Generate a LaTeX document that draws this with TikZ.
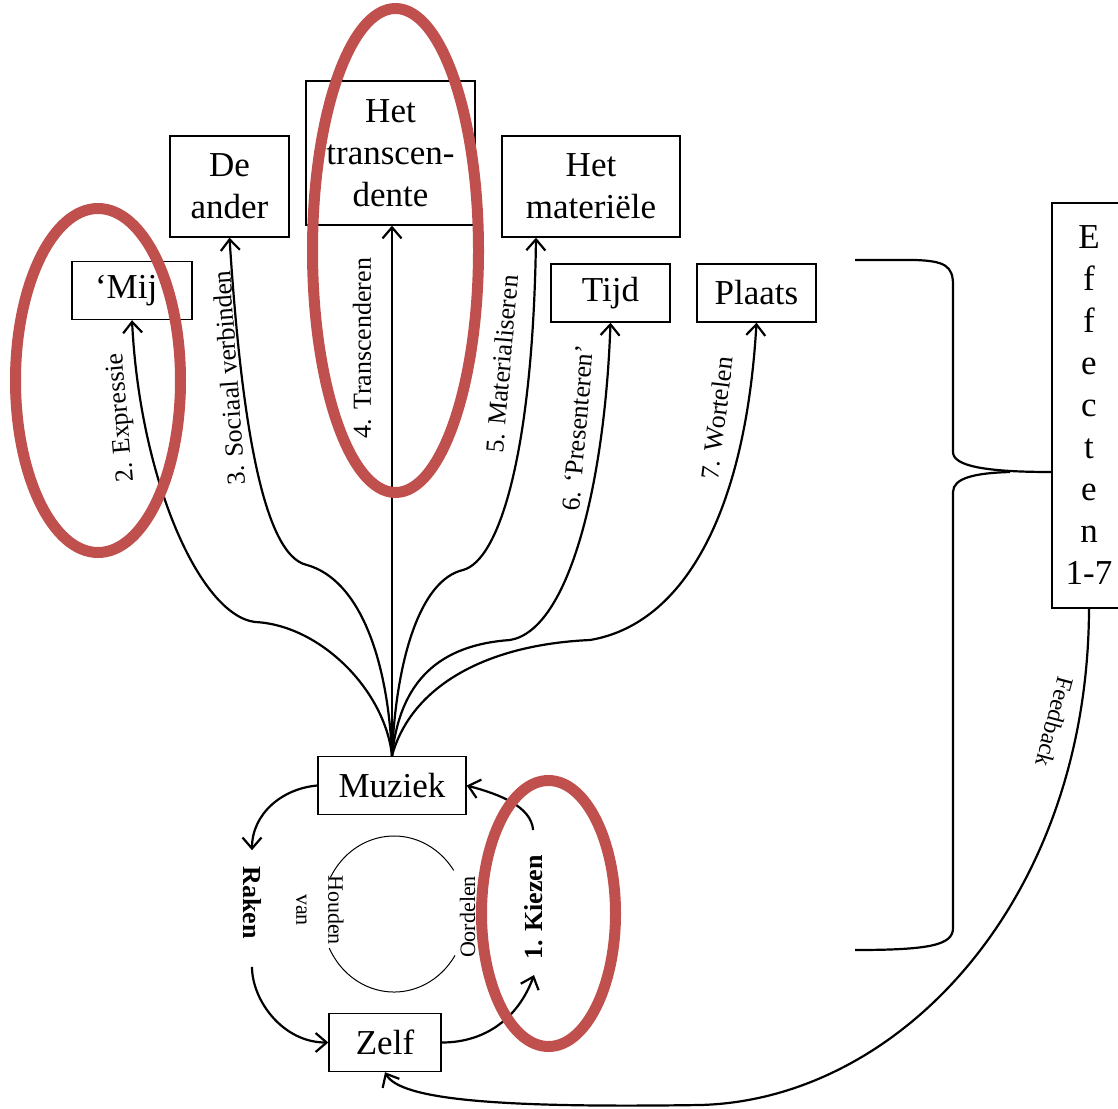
\documentclass[tikz,border=0pt]{standalone}
\usepackage{fontspec}
\setmainfont{Liberation Serif}
\usetikzlibrary{arrows.meta}
\definecolor{markred}{RGB}{192,80,77}

\begin{document}
\begin{tikzpicture}[x=1pt, y=1pt,
    box/.style={draw, line width=1.4pt, align=center, inner xsep=6pt, inner ysep=13pt,
        minimum height=58pt, font=\fontsize{35}{42}\selectfont},
    arr/.style={line width=2.2pt, -{Straight Barb[length=11pt,width=19pt]}},
    lbl/.style={inner sep=0pt, font=\fontsize{26}{30}\selectfont},
    cyc/.style={inner ysep=0pt, font=\bfseries\fontsize{26}{30}\selectfont},
    thinlbl/.style={inner sep=0pt, align=center, font=\fontsize{22}{32}\selectfont},
    redring/.style={draw=markred, line width=11pt}]
    \useasboundingbox (0,0) rectangle (1118,-1108);
    \fill[white] (0,0) rectangle (1118,-1108);

    \node[box, minimum width=120] (mij) at (132,-290.5) {‘Mij’};
    \node[box, minimum width=119, minimum height=101] (ander) at (229.5,-186.5) {De\\ander};
    \node[box, minimum width=169, minimum height=144] (trans) at (390.5,-153) {Het\\transcen-\\dente};
    \node[box, minimum width=178, minimum height=101] (mat) at (591,-186.5) {Het\\materiële};
    \node[box, minimum width=119] (tijd) at (610.5,-293) {Tijd};
    \node[box, minimum width=119] (plaats) at (756.5,-293) {Plaats};
    \node[box, minimum width=148] (muz) at (392,-785.5) {Muziek};
    \node[box, minimum width=112] (zelf) at (385,-1042.5) {Zelf};
    \node[box, minimum width=74, minimum height=405] (eff) at (1089,-405.5)
        {E\\f\\f\\e\\c\\t\\e\\n\\1-7};

    \draw[arr] (muz.north) .. controls (385,-690) and (320,-625) .. (255,-622)
        .. controls (200,-615) and (140,-480) .. (mij.south);
    \draw[arr] (muz.north) .. controls (388,-660) and (360,-580) .. (307,-565)
        .. controls (260,-555) and (240,-400) .. (ander.south);
    \draw[arr] (muz.north) -- (muz.north |- trans.south);
    \draw[arr] (muz.north) .. controls (396,-660) and (420,-580) .. (463,-570)
        .. controls (500,-560) and (533,-450) .. ([xshift=-55]mat.south);
    \draw[arr] (muz.north) .. controls (400,-680) and (440,-645) .. (510,-640)
        .. controls (570,-630) and (605,-480) .. (tijd.south);
    \draw[arr] (muz.north) .. controls (410,-690) and (480,-645) .. (590,-640)
        .. controls (680,-625) and (745,-520) .. (plaats.south);

    \node[lbl, rotate=95] (l2) at (122,-418) {2. Expressie};
    \node[lbl, rotate=94] (l3) at (229,-378) {3. Sociaal verbinden};
    \node[lbl, rotate=90] (l4) at (362,-348) {4. Transcenderen};
    \node[lbl, rotate=85] (l5) at (502,-364) {5. Materialiseren};
    \node[lbl, rotate=85] (l6) at (578,-428) {6. ‘Presenteren’};
    \node[lbl, rotate=83] (l7) at (717,-418) {7. Wortelen};

    \node[cyc, rotate=-90, inner xsep=16pt] (raken) at (252,-902.5) {Raken};
    \node[cyc, rotate=90, inner xsep=15pt] (kiez) at (534,-907.5) {1. Kiezen};
    \node[thinlbl, rotate=-90] (houd) at (320,-910) {Houden\\van};
    \node[thinlbl, rotate=90] (oord) at (467.5,-917) {Oordelen};

    \draw[arr] (muz.west) to[out=185, in=90] (raken.west);
    \draw[arr, shorten <=12pt] (raken.east) to[out=-90, in=180] (zelf.west);
    \draw[arr] (zelf.east) to[out=0, in=-110] (kiez.west);
    \draw[arr, shorten <=10pt] (kiez.east) to[out=95, in=-15] (muz.east);

    \draw[line width=1pt] (394,-914) ++(152:72 and 78)
        arc[start angle=152, end angle=34, x radius=72, y radius=78];
    \draw[line width=1pt] (394,-914) ++(206:72 and 78)
        arc[start angle=206, end angle=328, x radius=72, y radius=78];

    \coordinate (spike) at ([yshift=-66.5]eff.west);
    \coordinate (brtop) at (855,-260);
    \coordinate (brbot) at (855,-950);
    \draw[line width=2.2pt] (brtop) -- (915,-260) .. controls (945,-261) and (953,-266) .. (953,-285)
        -- (953,-452) .. controls (953,-466) and (985,-472) .. (spike);
    \draw[line width=2.2pt] (1010,-472) .. controls (975,-473) and (953,-478) .. (953,-492)
        -- (953,-928) .. controls (953,-945) and (930,-950) .. (brbot);

    \draw[arr] (eff.south) .. controls (1088,-900) and (900,-1100) .. (700,-1105)
        .. controls (500,-1108) and (400,-1100) .. (zelf.south);
    \node[lbl, rotate=-105, font=\fontsize{24}{28}\selectfont] (fb) at (1055,-722) {Feedback};

    \draw[redring] (98,-380.5) ellipse[x radius=82.5, y radius=172];
    \draw[redring] (395.5,-250.5) ellipse[x radius=83, y radius=242];
    \draw[redring] (548.5,-913.5) ellipse[x radius=67, y radius=133];
\end{tikzpicture}
\end{document}
